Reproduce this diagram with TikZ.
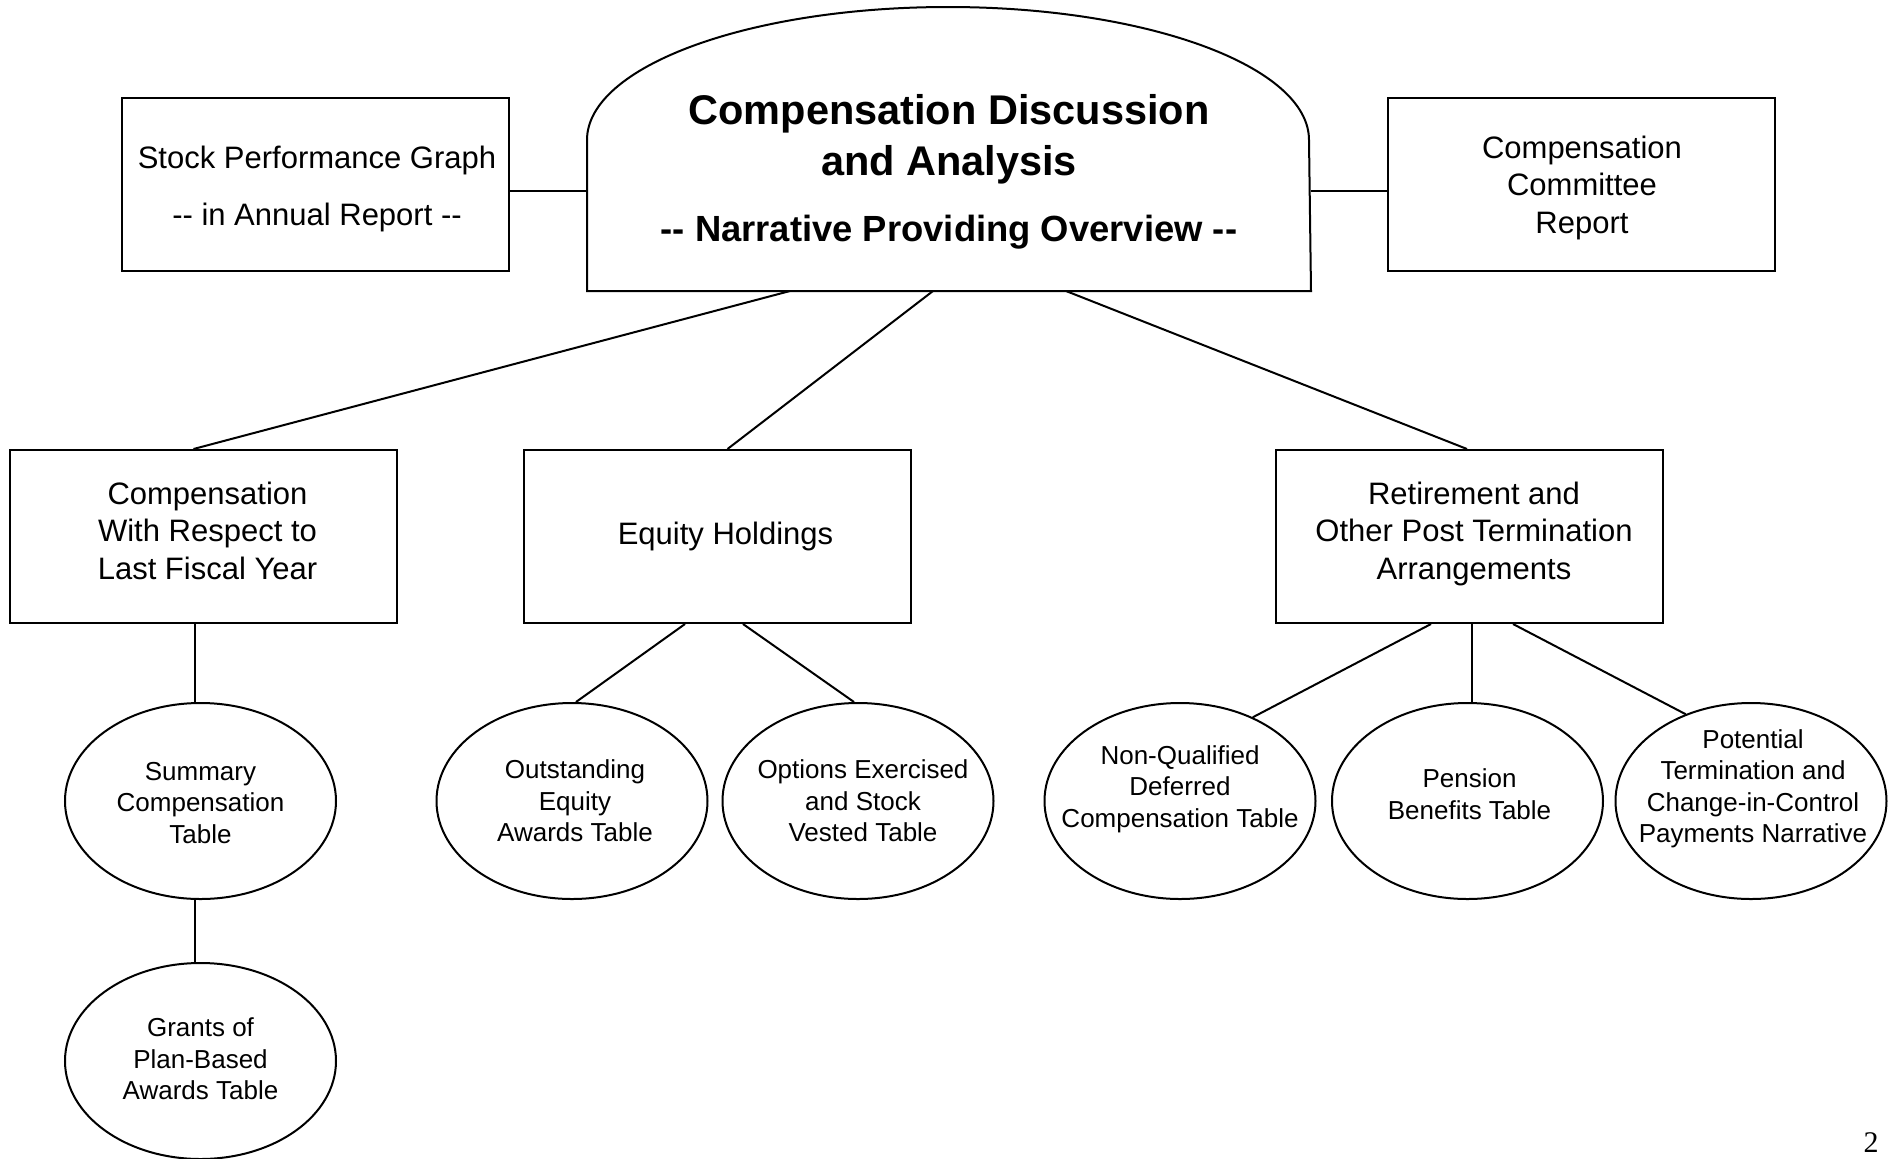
\documentclass[tikz,border=0pt]{standalone}
\usepackage{fontspec}
\setmainfont{Liberation Sans}
\newfontfamily\pgserif{Liberation Serif}
\usetikzlibrary{shapes.geometric}
\newcommand\dd{\mbox{-}\mbox{-}}
\begin{document}
\begin{tikzpicture}[x=0.5pt,y=-0.5pt,line width=1pt,
  boxnode/.style={draw,rectangle,minimum width=193.5pt,minimum height=86.5pt,inner sep=0pt},
  boxtext/.style={align=center,inner sep=0pt,font=\fontsize{15.5pt}{18.75pt}\selectfont},
  ellnode/.style={draw,ellipse,minimum width=135.5pt,minimum height=98pt,inner sep=0pt},
  elltext/.style={align=center,inner sep=0pt,font=\fontsize{13pt}{15.75pt}\selectfont},
  link/.style={draw,line width=1pt}]
\useasboundingbox (0,0) rectangle (1897,1158);
% main shape
\node[minimum width=361pt,minimum height=141.5pt,inner sep=0pt] (main) at (949,148.5) {};
\draw (main.south west) -- ([yshift=4.25pt]main.west)
  arc[start angle=180,end angle=0,x radius=180.5pt,y radius=66.5pt]
  -- (main.south east) -- cycle;
\node[align=center,inner sep=0pt,font=\bfseries\fontsize{20.75pt}{25.5pt}\selectfont] (T1) at (949,139)
  {Compensation Discussion\\and Analysis};
\node[inner sep=0pt,font=\bfseries\fontsize{18.2pt}{22pt}\selectfont] (T2) at (949,232)
  {\dd{} Narrative Providing Overview \dd};
% top boxes
\node[boxnode] (SPG) at (315,184) {};
\node[boxnode] (CCR) at (1581,184) {};
\node[boxtext,font=\fontsize{15.5pt}{28.5pt}\selectfont,xshift=1pt,yshift=-2.5pt] (SPGt) at (SPG) {Stock Performance Graph\\\dd{} in Annual Report \dd};
\node[boxtext,xshift=0.5pt,yshift=-1.75pt] (CCRt) at (CCR) {Compensation\\Committee\\Report};
% middle boxes
\node[boxnode] (B1) at (203.5,536.5) {};
\node[boxnode] (B2) at (717.5,536.5) {};
\node[boxnode] (B3) at (1469,536.5) {};
\node[boxtext,xshift=2pt,yshift=3pt] (B1t) at (B1) {Compensation\\With Respect to\\Last Fiscal Year};
\node[boxtext,xshift=4pt] (B2t) at (B2) {Equity Holdings};
\node[boxtext,xshift=2.5pt,yshift=1.5pt] (B3t) at (B3) {Retirement and\\Other Post Termination\\Arrangements};
% ellipses
\node[ellnode] (E1) at (200.5,801) {};
\node[ellnode] (E2) at (200.5,1061) {};
\node[ellnode] (E3) at (572,801) {};
\node[ellnode] (E4) at (858,801) {};
\node[ellnode] (E5) at (1180,801) {};
\node[ellnode] (E6) at (1467.5,801) {};
\node[ellnode] (E7) at (1751,801) {};
\node[elltext,yshift=-1pt] (E1t) at (E1) {Summary\\Compensation\\Table};
\node[elltext,yshift=1pt] (E2t) at (E2) {Grants of\\Plan-Based\\Awards Table};
\node[elltext,xshift=1.5pt] (E3t) at (E3) {Outstanding\\Equity\\Awards Table};
\node[elltext,xshift=2.5pt] (E4t) at (E4) {Options Exercised\\and Stock\\Vested Table};
\node[elltext,yshift=6pt] (E5t) at (E5) {Non-Qualified\\Deferred\\Compensation Table};
\node[elltext,xshift=1pt,yshift=3.5pt] (E6t) at (E6) {Pension\\Benefits Table};
\node[elltext,xshift=1pt,yshift=6pt] (E7t) at (E7) {Potential\\Termination and\\Change-in-Control\\Payments Narrative};
% connectors
\draw[link] ([yshift=-3.5pt]SPG.east) -- ([yshift=-3.5pt]SPG.east -| main.west);
\draw[link] ([yshift=-3.5pt]CCR.west) -- ([yshift=-3.5pt]CCR.west -| main.east);
\draw[link] ([xshift=-79.5pt]main.south) -- ([xshift=-5pt]B1.north);
\draw[link] ([xshift=-8pt]main.south) -- ([xshift=5pt]B2.north);
\draw[link] ([xshift=58.5pt]main.south) -- ([xshift=-1pt]B3.north);
\draw[link] ([xshift=-4.25pt]B1.south) -- ([xshift=-4.25pt]B1.south |- E1.north);
\draw[link] ([xshift=-2.75pt]E1.south) -- ([xshift=-2.75pt]E2.north);
\draw[link] ([xshift=-16.25pt]B2.south) -- ([xshift=2pt]E3.north);
\draw[link] ([xshift=12.75pt]B2.south) -- ([xshift=-2pt]E4.north);
\draw[link] ([xshift=-19pt]B3.south) -- (E5.49);
\draw[link] ([xshift=1.5pt]B3.south) -- ([xshift=1.5pt]B3.south |- E6.north);
\draw[link] ([xshift=22pt]B3.south) -- (E7.127);
% page number
\node[inner sep=0pt,font=\pgserif\fontsize{15pt}{18pt}\selectfont] (pg) at (1871,1143) {2};
\end{tikzpicture}
\end{document}
